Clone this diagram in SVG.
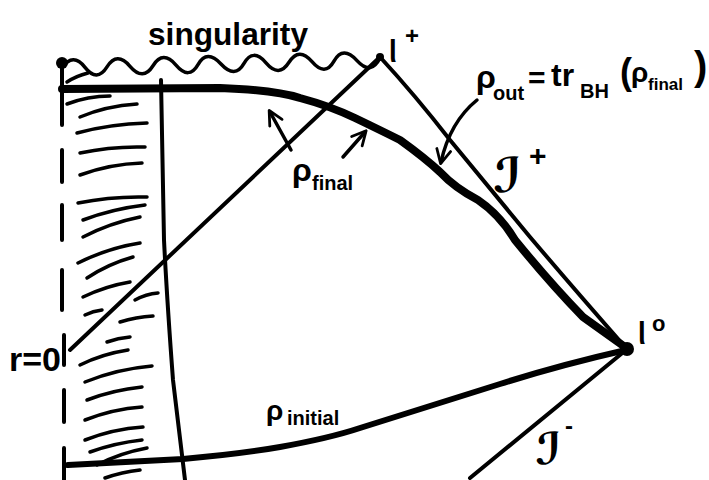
<svg xmlns="http://www.w3.org/2000/svg" width="709" height="480" viewBox="0 0 709 480">
<style>
.ln{fill:none;stroke:#000;stroke-linecap:round;stroke-linejoin:round}
.thin{stroke-width:4}
.thick{stroke-width:8}
.hatch{fill:none;stroke:#000;stroke-width:3.5;stroke-linecap:round}
.t{font-family:"Liberation Sans","DejaVu Sans",sans-serif;font-weight:bold;fill:#000}
</style>
<defs>
<marker id="ah" viewBox="0 0 10 10" refX="8" refY="5" markerWidth="5" markerHeight="5" orient="auto-start-reverse" markerUnits="strokeWidth">
<path d="M1,1 L9,5 L1,9" fill="none" stroke="#000" stroke-width="1.6" stroke-linecap="round" stroke-linejoin="round"/>
</marker>
</defs>
<rect width="709" height="480" fill="#fff"/>
<g id="hatching">
<path class="hatch" d="M67,82 Q76,76 88,73"/>
<path class="hatch" d="M67,104 Q88,96 110,96"/>
<path class="hatch" d="M80,117 Q106,106 137,104"/>
<path class="hatch" d="M77,133 Q110,124 147,123"/>
<path class="hatch" d="M80,153 Q112,146 145,147"/>
<path class="hatch" d="M80,175 Q110,164 142,163"/>
<path class="hatch" d="M78,203 Q112,196 147,197"/>
<path class="hatch" d="M83,220 Q112,209 145,205"/>
<path class="hatch" d="M83,237 Q110,223 140,217"/>
<path class="hatch" d="M78,263 Q108,248 140,243"/>
<path class="hatch" d="M87,278 Q108,264 133,257"/>
<path class="hatch" d="M83,297 Q106,286 130,282"/>
<path class="hatch" d="M135,300 Q146,294 158,293"/>
<path class="hatch" d="M85,315 Q93,311 102,310"/>
<path class="hatch" d="M120,322 Q136,317 153,316"/>
<path class="hatch" d="M107,342 Q118,338 130,337"/>
<path class="hatch" d="M80,365 Q102,354 128,350"/>
<path class="hatch" d="M85,382 Q117,369 152,366"/>
<path class="hatch" d="M87,400 Q113,390 142,387"/>
<path class="hatch" d="M85,420 Q113,409 142,407"/>
<path class="hatch" d="M85,440 Q113,429 143,427"/>
<path class="hatch" d="M90,452 Q115,443 142,440"/>
<path class="hatch" d="M97,465 Q120,453 147,448"/>
<path class="hatch" d="M105,478 Q122,472 140,470"/>
</g>
<g id="connectors">
<path id="r0-axis" class="ln" stroke-width="4" d="M62,63 L62,125 M62,150 L62,182 M62,205 L62,240 M62,270 L62,310 M64,335 L64,365 M64,390 L64,422 M64,448 L64,480"/>
<path id="singularity-line" class="ln" stroke-width="3.5" d="M62,68 Q73,52 85,67.4 T107,66.9 T130,66.3 T153,65.7 T176,65.1 T198,64.6 T221,64 T244,63.4 T266,62.9 T289,62.3 T312,61.7 T334,61.1 T357,60.6 T380,58"/>
<path id="shell" class="ln thin" d="M161,80 L164,240 Q167,300 173,380 L185,480"/>
<path id="light-ray" class="ln thin" d="M380,57 L70,350"/>
<path id="scri-plus" class="ln thin" d="M380,57 Q415,95 450,140 L530,237 Q575,290 626,348"/>
<path id="scri-minus" class="ln thin" d="M626,350 L470,478"/>
<path id="rho-final" class="ln thick" d="M62,89 L220,88 Q275,90 300,98 Q330,106 355,118 Q380,130 400,140 Q425,158 440,172 Q455,188 478,200 Q500,215 515,240 Q550,283 583,317 L625,347"/>
<path id="rho-initial" class="ln" stroke-width="6" d="M68,465 L183,459 Q240,454 280,447 Q330,438 360,428 Q440,403 500,384 Q560,365 626,350"/>
<path id="arrow-final-1" class="ln" stroke-width="3.5" marker-end="url(#ah)" d="M291,150 L270,112"/>
<path id="arrow-final-2" class="ln" stroke-width="3.5" marker-end="url(#ah)" d="M343,157 L365,132"/>
<path id="arrow-out" class="ln" stroke-width="3.5" marker-end="url(#ah)" d="M477,100 Q450,122 441,162"/>
</g>
<g id="dots">
<circle cx="62" cy="63" r="6"/>
<circle cx="380" cy="57" r="4"/>
<circle cx="627" cy="349" r="7"/>
</g>
<g id="labels">
<text class="t" x="148" y="45" font-size="32" textLength="160" lengthAdjust="spacingAndGlyphs">singularity</text>
<text class="t" font-size="28" transform="translate(389,62) scale(1,1.5)">ι</text>
<text class="t" x="405" y="44" font-size="24">+</text>
<text class="t" x="476" y="88" font-size="32">ρ</text>
<text class="t" x="493" y="100" font-size="20">out</text>
<text class="t" x="528" y="88" font-size="30">=</text>
<text class="t" x="551" y="86" font-size="32">tr</text>
<text class="t" x="580" y="98" font-size="20">BH</text>
<text class="t" x="620" y="84" font-size="36">(</text>
<text class="t" x="631" y="82" font-size="28">ρ</text>
<text class="t" x="648" y="90" font-size="17">final</text>
<text class="t" x="694" y="80" font-size="40">)</text>
<text class="t" x="493" y="192" font-size="48" font-family="DejaVu Sans,sans-serif">ℐ</text>
<text class="t" x="529" y="166" font-size="30">+</text>
<text class="t" x="292" y="181" font-size="32">ρ</text>
<text class="t" x="312" y="190" font-size="20">final</text>
<text class="t" x="9" y="371" font-size="34">r=0</text>
<text class="t" x="266" y="420" font-size="28">ρ</text>
<text class="t" x="287" y="425" font-size="20">initial</text>
<text class="t" x="535" y="464" font-size="44" font-family="DejaVu Sans,sans-serif">ℐ</text>
<text class="t" x="565" y="434" font-size="24">-</text>
<text class="t" font-size="28" transform="translate(638,344) scale(1,1.5)">ι</text>
<text class="t" x="652" y="331" font-size="22">o</text>
</g>
</svg>
